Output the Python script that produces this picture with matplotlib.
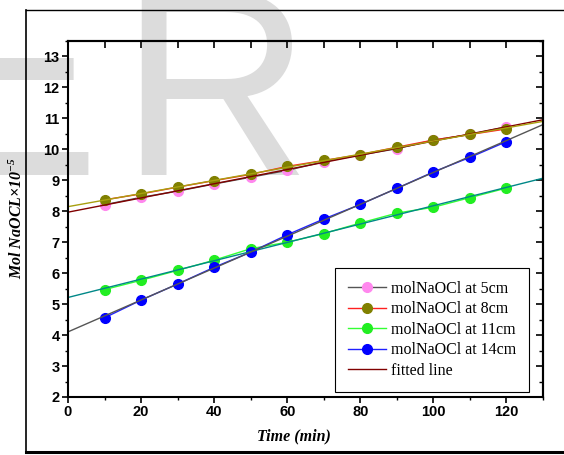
import numpy as np
import matplotlib
matplotlib.use('Agg')
from matplotlib import pyplot as plt
from matplotlib.ticker import MultipleLocator
from matplotlib.lines import Line2D

plt.rcParams['mathtext.default'] = 'regular'

# data
time = [10, 20, 30, 40, 50, 60, 70, 80, 90, 100, 110, 120]
mol_5cm = [8.21, 8.45, 8.65, 8.88, 9.10, 9.32, 9.60, 9.82, 10.02, 10.30, 10.48, 10.73]
mol_8cm = [8.37, 8.56, 8.78, 8.99, 9.19, 9.45, 9.64, 9.83, 10.07, 10.30, 10.48, 10.66]
mol_11cm = [5.47, 5.77, 6.09, 6.42, 6.79, 7.00, 7.28, 7.62, 7.94, 8.13, 8.44, 8.75]
mol_14cm = [4.56, 5.13, 5.65, 6.19, 6.68, 7.24, 7.75, 8.22, 8.74, 9.27, 9.74, 10.25]
labels = ['molNaOCl at 5cm', 'molNaOCl at 8cm', 'molNaOCl at 11cm', 'molNaOCl at 14cm']

series = [mol_5cm, mol_8cm, mol_11cm, mol_14cm]
line_cols = ['#555555', '#ff2020', '#33ff33', '#2020ff']
mark_cols = ['#ff88ee', '#808000', '#22ee22', '#0000ff']
fit_cols = ['#800000', '#a8a010', '#008888', '#555555']

fig = plt.figure(figsize=(5.64, 4.55), dpi=100)

# watermark behind the plot
wm = dict(color='#dcdcdc', family='Liberation Sans', va='baseline', zorder=-5)
fig.text(101/564, 1 - 175/455, 'E', ha='right', fontsize=215, **wm)
fig.text(119/564, 1 - 175/455, 'R', ha='left', fontsize=191, **wm)

# outer frame
fig.add_artist(Line2D([26/564, 26/564], [1 - 10/455, 1 - 453/455], color='black', lw=1.2))
fig.add_artist(Line2D([26/564, 1.0], [1 - 10/455, 1 - 10/455], color='black', lw=1.0))
fig.add_artist(Line2D([26/564, 1.0], [1 - 452/455, 1 - 452/455], color='black', lw=2.2))

ax = fig.add_axes([68/564, 1 - 397/455, 475/564, 356/455])
ax.set_facecolor('none')

x = np.array(time)
for y, lab, lc, mc in zip(series, labels, line_cols, mark_cols):
    ax.plot(time, y, '-o', color=lc, mfc=mc, mec=mc, ms=7, lw=1.0, label=lab)

# linear fits drawn across the full x range
xf = np.array([0, 130])
for i, (y, fc) in enumerate(zip(series, fit_cols)):
    m, c = np.polyfit(x, np.array(y), 1)
    ax.plot(xf, m*xf + c, color=fc, lw=1.0, label='fitted line' if i == 0 else None)

ax.set_xlim(0, 130)
ax.set_ylim(2, 13.5)
ax.xaxis.set_major_locator(MultipleLocator(20))
ax.xaxis.set_minor_locator(MultipleLocator(10))
ax.yaxis.set_major_locator(MultipleLocator(1))
ax.yaxis.set_minor_locator(MultipleLocator(0.5))
ax.tick_params(which='major', direction='out', length=4, width=1.2, top=False, right=False, pad=2)
ax.tick_params(which='minor', direction='out', length=2.5, width=1.0, top=False, right=False)
for lab in ax.get_xticklabels() + ax.get_yticklabels():
    lab.set_fontfamily('Liberation Sans')
    lab.set_fontweight('bold')
    lab.set_fontsize(10.5)
for s in ax.spines.values():
    s.set_linewidth(1.5)

top = ax.secondary_xaxis('top')
top.xaxis.set_major_locator(MultipleLocator(10))
top.tick_params(direction='in', length=5, width=1.2, labeltop=False)
right = ax.secondary_yaxis('right')
right.yaxis.set_major_locator(MultipleLocator(1))
right.yaxis.set_minor_locator(MultipleLocator(0.5))
right.tick_params(which='major', direction='in', length=5, width=1.2, labelright=False)
right.tick_params(which='minor', direction='in', length=3, width=1.0)
for s in list(top.spines.values()) + list(right.spines.values()):
    s.set_linewidth(1.5)

lab_font = dict(family='Liberation Serif', weight='bold', style='italic', size=11.5)
ax.set_xlabel('Time (min)', fontdict=lab_font)
ax.xaxis.set_label_coords(0.475, -0.088)
ax.set_ylabel('Mol NaOCL×10$^{-5}$', fontdict=lab_font)
ax.yaxis.set_label_coords(-0.088, 0.503)

leg = ax.legend(loc='upper right', bbox_to_anchor=(0.971, 0.362), borderaxespad=0,
                prop={'family': 'Liberation Serif', 'size': 11.5}, fancybox=False,
                edgecolor='black', framealpha=1, handlelength=2.4, handletextpad=0.3,
                labelspacing=0.28, borderpad=0.8)
leg.get_frame().set_linewidth(0.8)

fig.savefig('out.png', dpi=100)
